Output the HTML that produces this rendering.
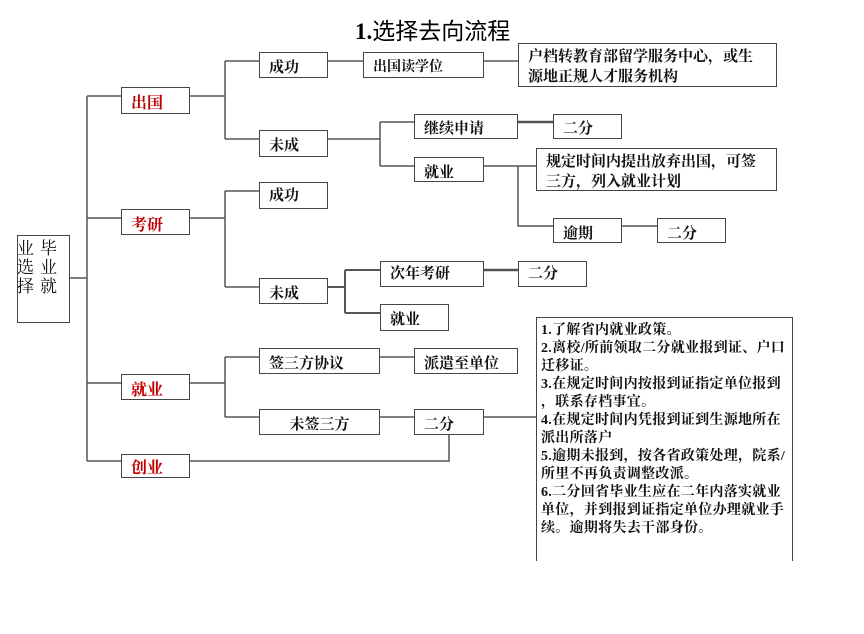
<!DOCTYPE html>
<html><head><meta charset="utf-8"><style>
body{margin:0;width:864px;height:634px;background:#fff;position:relative;overflow:hidden;font-family:"Liberation Serif","Noto Serif CJK SC",serif;}
.b{position:absolute;border:1.5px solid #444;box-sizing:border-box;background:#fff;font-weight:bold;font-size:15px;color:#111;padding:6px 0 0 9px;line-height:18px;white-space:nowrap;}
.r{color:#c00000;font-size:16px;padding-top:7px;}
.c{text-align:center;padding-left:0;}
svg{position:absolute;left:0;top:0;}
</style></head><body>
<svg width="864" height="634"><g stroke="#555" stroke-width="1.5" fill="none">
<path d="M70 278H87M87 96V461M87 96H121M87 218H121M87 383H121M87 461H449V435"/>
<path d="M190 96H225M225 61V139M225 61H259M225 139H259"/>
<path d="M328 61H363M484 61H518"/>
<path d="M328 139H380M380 122V166M380 122H414M380 166H414"/>
<path d="M518 122H553" stroke-width="2.5"/>
<path d="M484 166H536M518 166V226H553M622 226H657"/>
<path d="M190 218H225M225 191V287M225 191H259M225 287H259"/>
<path d="M328 287H345M345 270V313M345 270H380M345 313H380" stroke-width="2"/>
<path d="M484 270H518" stroke-width="2.5"/>
<path d="M190 383H225M225 357V417M225 357H259M225 417H259"/>
<path d="M380 357H414M380 417H414M484 417H536"/>
</g></svg>
<div style="position:absolute;left:355px;top:12px;font-size:23px;font-family:'Liberation Serif','Noto Sans CJK SC',serif;"><b>1.</b>选择去向流程</div>
<div class="b" style="left:17px;top:235px;width:53px;height:88px;padding:0;font-weight:normal;font-size:17px;">
<div style="position:absolute;left:22px;top:3px;width:18px;line-height:19px;white-space:normal;">毕业就</div>
<div style="position:absolute;left:-1px;top:3px;width:18px;line-height:19px;white-space:normal;">业选择</div>
</div>
<div class="b r" style="left:121px;top:87px;width:69px;height:27px;">出国</div>
<div class="b r" style="left:121px;top:209px;width:69px;height:26px;">考研</div>
<div class="b r" style="left:121px;top:374px;width:69px;height:26px;">就业</div>
<div class="b r" style="left:121px;top:454px;width:69px;height:24px;padding-top:5px;">创业</div>
<div class="b" style="left:259px;top:52px;width:69px;height:26px;">成功</div>
<div class="b" style="left:259px;top:130px;width:69px;height:27px;">未成</div>
<div class="b" style="left:363px;top:52px;width:121px;height:26px;font-size:14px;">出国读学位</div>
<div class="b" style="left:518px;top:43px;width:259px;height:44px;padding-top:3px;line-height:20px;">户档转教育部留学服务中心，或生<br>源地正规人才服务机构</div>
<div class="b" style="left:414px;top:114px;width:104px;height:25px;padding-top:5px;">继续申请</div>
<div class="b" style="left:553px;top:114px;width:69px;height:25px;padding-top:5px;">二分</div>
<div class="b" style="left:414px;top:157px;width:70px;height:25px;">就业</div>
<div class="b" style="left:536px;top:148px;width:241px;height:43px;padding-top:3px;line-height:20px;">规定时间内提出放弃出国，可签<br>三方，列入就业计划</div>
<div class="b" style="left:553px;top:218px;width:69px;height:25px;">逾期</div>
<div class="b" style="left:657px;top:218px;width:69px;height:25px;">二分</div>
<div class="b" style="left:259px;top:182px;width:69px;height:27px;padding-top:4px;">成功</div>
<div class="b" style="left:259px;top:278px;width:69px;height:26px;">未成</div>
<div class="b" style="left:380px;top:261px;width:104px;height:26px;padding-top:3px;">次年考研</div>
<div class="b" style="left:518px;top:261px;width:69px;height:26px;padding-top:3px;">二分</div>
<div class="b" style="left:380px;top:304px;width:69px;height:27px;">就业</div>
<div class="b" style="left:259px;top:348px;width:121px;height:26px;">签三方协议</div>
<div class="b" style="left:414px;top:348px;width:104px;height:26px;">派遣至单位</div>
<div class="b c" style="left:259px;top:409px;width:121px;height:26px;">未签三方</div>
<div class="b" style="left:414px;top:409px;width:70px;height:26px;">二分</div>
<div class="b" style="left:536px;top:317px;width:257px;height:244px;font-size:14px;letter-spacing:0.3px;line-height:18px;padding:4px 0 0 4px;border-bottom:none;">1.了解省内就业政策。<br>2.离校/所前领取二分就业报到证、户口<br>迁移证。<br>3.在规定时间内按报到证指定单位报到<br>，联系存档事宜。<br>4.在规定时间内凭报到证到生源地所在<br>派出所落户<br>5.逾期未报到，按各省政策处理，院系/<br>所里不再负责调整改派。<br>6.二分回省毕业生应在二年内落实就业<br>单位，并到报到证指定单位办理就业手<br>续。逾期将失去干部身份。</div>
</body></html>
